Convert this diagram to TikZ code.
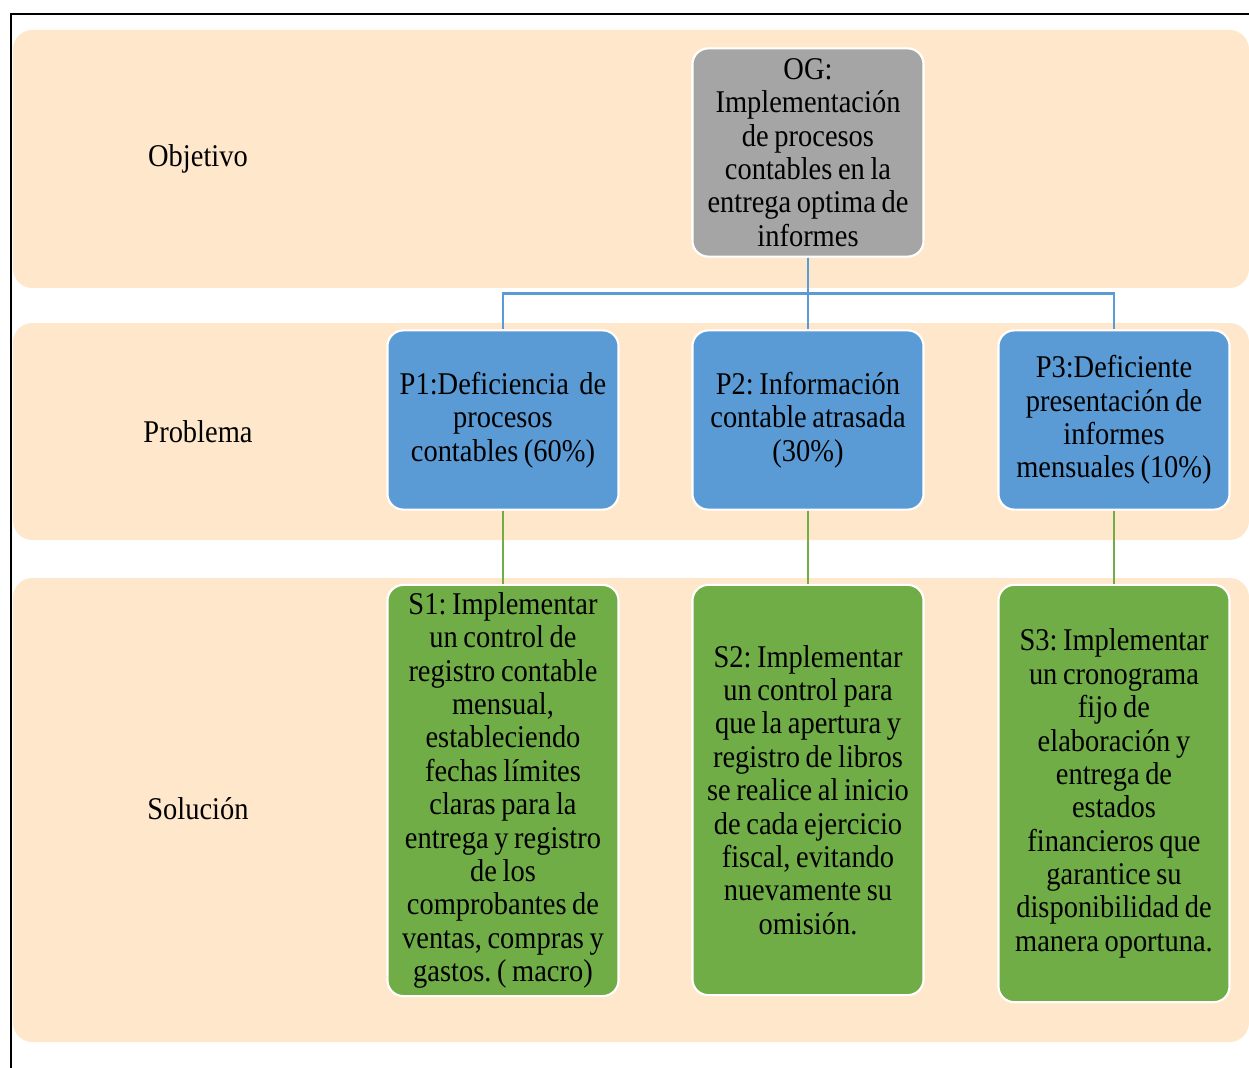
\documentclass[tikz,border=0pt]{standalone}
\usepackage{xcolor}
\usepackage{fontspec}
\setmainfont[FakeStretch=0.9]{Liberation Serif}
\usepackage{tikz}
\usetikzlibrary{positioning}
\frenchspacing

\definecolor{fondo}{HTML}{FFE7CC}
\definecolor{gris}{HTML}{A5A5A5}
\definecolor{azul}{HTML}{5B9BD5}
\definecolor{verde}{HTML}{70AD47}

\tikzset{
  banda/.style={fill=fondo,rounded corners=11pt},
  caja/.style={draw=white,line width=1.2pt,rounded corners=9pt,
    minimum width=131.5pt,text width=125pt,align=center,inner xsep=3pt,
    font=\fontsize{18}{19}\selectfont,
    execute at begin node={\spaceskip=3.2pt\relax}},
  etiqueta/.style={font=\fontsize{18}{19}\selectfont},
  enlace/.style={line width=1.5pt}
}

\begin{document}
\begin{tikzpicture}[x=0.02cm,y=-0.02cm]
    \useasboundingbox (0,0) rectangle (1249,1068);

    % Marco exterior
    \draw[line width=1.1pt] (11,1068) |- (1249,14);

    % Franjas de fondo
    \fill[banda] (13,30) rectangle (1249,288);
    \fill[banda] (13,323) rectangle (1249,540);
    \fill[banda] (13,578) rectangle (1249,1042);

    % Rótulos de cada nivel
    \node[etiqueta] (lobj) at (198,159) {Objetivo};
    \node[etiqueta] (lpro) at (198,432) {Problema};
    \node[etiqueta] (lsol) at (198,809) {Solución};

    % Objetivo general
    \node[caja,fill=gris,minimum height=118.5pt] (og) at (808,152.5)
      {OG:\\Implementación\\de procesos\\contables en la\\entrega optima de\\informes};

    % Problemas
    \node[caja,fill=azul,minimum height=102pt] (p1) at (503,420)
      {P1:Deficiencia\hspace{6pt}de\\procesos\\contables (60\%)};
    \node[caja,fill=azul,minimum height=102pt] (p2) at (808,420)
      {P2: Información\\contable atrasada\\(30\%)};
    \node[caja,fill=azul,minimum height=102pt] (p3) at (1114,420)
      {P3:Deficiente\\presentación de\\informes\\mensuales (10\%)};

    % Soluciones
    \node[caja,fill=verde,minimum height=234pt] (s1) at (503,790.5)
      {S1: Implementar\\un control de\\registro contable\\mensual,\\estableciendo\\fechas límites\\claras para la\\entrega y registro\\de los\\comprobantes de\\ventas, compras y\\gastos. ( macro)};
    \node[caja,fill=verde,minimum height=233.5pt] (s2) at (808,790)
      {S2: Implementar\\un control para\\que la apertura y\\registro de libros\\se realice al inicio\\de cada ejercicio\\fiscal, evitando\\nuevamente su\\omisión.};
    \node[caja,fill=verde,minimum height=237.5pt] (s3) at (1114,793.5)
      {S3: Implementar\\un cronograma\\fijo de\\elaboración y\\entrega de\\estados\\financieros que\\garantice su\\disponibilidad de\\manera oportuna.};

    % Conexiones objetivo - problemas
    \draw[enlace,azul] (og.south) -- ++(0,36) -| (p1.north);
    \draw[enlace,azul] (og.south) -- (p2.north);
    \draw[enlace,azul] (og.south) -- ++(0,36) -| (p3.north);

    % Conexiones problemas - soluciones
    \draw[enlace,verde] (p1.south) -- (s1.north);
    \draw[enlace,verde] (p2.south) -- (s2.north);
    \draw[enlace,verde] (p3.south) -- (s3.north);
\end{tikzpicture}
\end{document}
